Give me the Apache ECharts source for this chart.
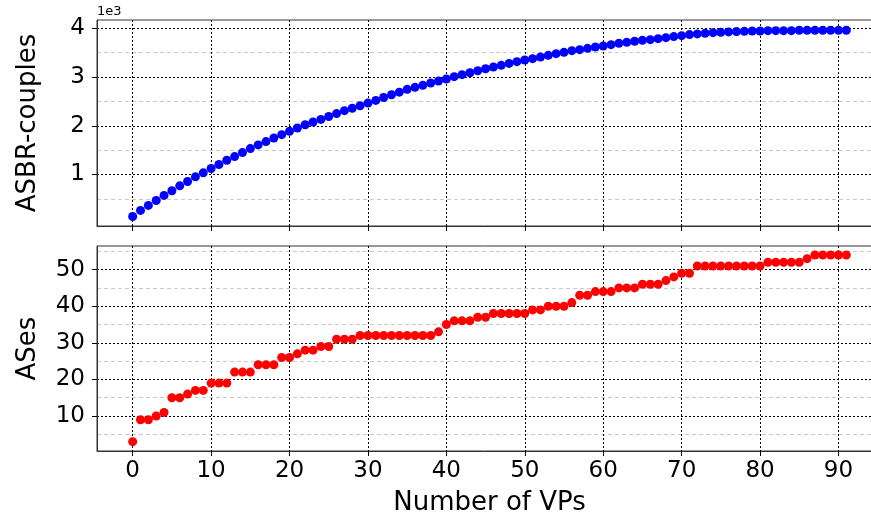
<!DOCTYPE html>
<html>
<head>
<meta charset="utf-8">
<script src="https://cdn.jsdelivr.net/npm/echarts@6/dist/echarts.min.js"></script>
<style>
  html, body { margin: 0; padding: 0; background: #fff; }
  #chart { width: 871px; height: 516px; }
</style>
</head>
<body>
<div id="chart"></div>
<script>
// ASBR couples discovered vs number of vantage points (index = number of VPs)
const asbrCouples = [140, 264, 366, 468, 571, 666, 768, 857, 952, 1034,
  1123, 1205, 1293, 1368, 1450, 1532, 1607, 1675, 1750, 1818,
  1886, 1954, 2020, 2077, 2130, 2190, 2250, 2310, 2360, 2410,
  2466, 2520, 2580, 2636, 2690, 2747, 2788, 2829, 2877, 2918,
  2959, 3007, 3048, 3089, 3130, 3171, 3205, 3240, 3280, 3315,
  3350, 3377, 3410, 3445, 3479, 3507, 3541, 3562, 3589, 3616,
  3637, 3664, 3692, 3712, 3733, 3753, 3767, 3787, 3808, 3829,
  3849, 3870, 3884, 3897, 3911, 3918, 3925, 3932, 3938, 3945,
  3945, 3952, 3952, 3952, 3952, 3959, 3959, 3959, 3959, 3959,
  3959, 3959];

const ases = [3, 9, 9, 10, 11, 15, 15, 16, 17, 17,
  19, 19, 19, 22, 22, 22, 24, 24, 24, 26,
  26, 27, 28, 28, 29, 29, 31, 31, 31, 32,
  32, 32, 32, 32, 32, 32, 32, 32, 32, 33,
  35, 36, 36, 36, 37, 37, 38, 38, 38, 38,
  38, 39, 39, 40, 40, 40, 41, 43, 43, 44,
  44, 44, 45, 45, 45, 46, 46, 46, 47, 48,
  49, 49, 51, 51, 51, 51, 51, 51, 51, 51,
  51, 52, 52, 52, 52, 52, 53, 54, 54, 54,
  54, 54];

const xTicks = [0, 10, 20, 30, 40, 50, 60, 70, 80, 90];
const topTicks = [1000, 2000, 3000, 4000];
const topMinor = [500, 1500, 2500, 3500];
const bottomTicks = [10, 20, 30, 40, 50];
const bottomMinor = [5, 15, 25, 35, 45, 55];

const font = 'DejaVu Sans, sans-serif';
const spine = '#333';

const majorGrid = { show: true, lineStyle: { color: '#000', type: [2, 2], width: 1 } };
const minorGrid = { show: true, lineStyle: { color: '#c8c8c8', type: [4, 3], width: 1 } };

function xAxis(gridIndex, withLabels) {
  return {
    type: 'value', gridIndex: gridIndex,
    min: -4.55, max: 95.55,
    name: withLabels ? 'Number of VPs' : '',
    nameLocation: 'middle', nameGap: 39,
    nameTextStyle: { fontFamily: font, fontSize: 26, color: '#000' },
    axisLine: { show: true, onZero: false, lineStyle: { color: spine, width: 1 } },
    axisTick: { show: true, length: 5, lineStyle: { color: '#000' }, customValues: xTicks },
    axisLabel: { show: withLabels, customValues: xTicks, margin: 9, fontFamily: font, fontSize: 23, color: '#000' },
    splitLine: majorGrid
  };
}

function yAxis(gridIndex, name, min, max, ticks, fmt) {
  return {
    type: 'value', gridIndex: gridIndex, min: min, max: max,
    name: name, nameLocation: 'middle', nameGap: 56, nameRotate: 90,
    nameTextStyle: { fontFamily: font, fontSize: 26, color: '#000' },
    axisLine: { show: true, onZero: false, lineStyle: { color: spine, width: 1 } },
    axisTick: { show: true, length: 5, lineStyle: { color: '#000' }, customValues: ticks },
    axisLabel: { customValues: ticks, margin: 12, fontFamily: font, fontSize: 23, color: '#000', formatter: fmt },
    splitLine: majorGrid
  };
}

function minorAxis(gridIndex, min, max, ticks) {
  return {
    type: 'value', gridIndex: gridIndex, min: min, max: max, position: 'left',
    axisLine: { show: false, onZero: false },
    axisTick: { show: false, customValues: ticks },
    axisLabel: { show: false, customValues: ticks },
    splitLine: minorGrid
  };
}

const chart = echarts.init(document.getElementById('chart'));
chart.setOption({
  animation: false,
  grid: [
    { left: 97, width: 785, top: 20, height: 206, outerBoundsMode: 'none', containLabel: false,
      show: true, borderColor: spine, borderWidth: 1, backgroundColor: 'transparent' },
    { left: 97, width: 785, top: 246, height: 205, outerBoundsMode: 'none', containLabel: false,
      show: true, borderColor: spine, borderWidth: 1, backgroundColor: 'transparent' }
  ],
  graphic: [
    { type: 'text', left: 97, top: 5, style: { text: '1e3', fontFamily: font, fontSize: 13, fill: '#000' } }
  ],
  xAxis: [xAxis(0, false), xAxis(1, true)],
  yAxis: [
    yAxis(0, 'ASBR-couples', -56, 4170, topTicks, v => String(v / 1000)),
    yAxis(1, 'ASes', 0.45, 56.45, bottomTicks, v => String(v)),
    minorAxis(0, -56, 4170, topMinor),
    minorAxis(1, 0.45, 56.45, bottomMinor)
  ],
  series: [
    {
      type: 'scatter', xAxisIndex: 0, yAxisIndex: 0,
      symbolSize: 9, itemStyle: { color: '#0000ff', opacity: 1 },
      data: asbrCouples.map((v, i) => [i, v])
    },
    {
      type: 'scatter', xAxisIndex: 1, yAxisIndex: 1,
      symbolSize: 9, itemStyle: { color: '#ff0000', opacity: 1 },
      data: ases.map((v, i) => [i, v])
    }
  ]
});
</script>
</body>
</html>
